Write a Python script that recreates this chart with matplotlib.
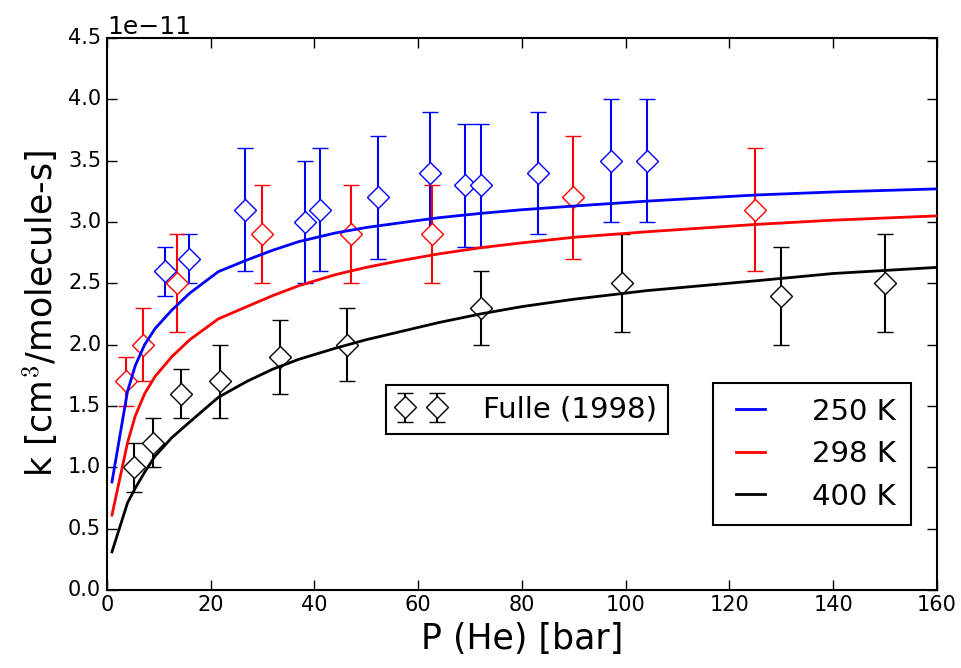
import numpy as np
import matplotlib
matplotlib.use("Agg")
import matplotlib.pyplot as plt

plt.style.use("classic")
plt.rcParams["font.family"] = ["DejaVu Sans"]
plt.rcParams["savefig.facecolor"] = "white"
plt.rcParams["figure.facecolor"] = "white"

# Fulle (1998) measurements, k in units of 1e-11 cm3/molecule-s
p_250 = [11.2, 15.8, 26.6, 38.2, 41.1, 52.2, 62.3, 69.0, 72.1, 83.1, 97.2, 104.1]
k_250 = [2.6, 2.7, 3.1, 3.0, 3.1, 3.2, 3.4, 3.3, 3.3, 3.4, 3.5, 3.5]
e_250 = [0.2, 0.2, 0.5, 0.5, 0.5, 0.5, 0.5, 0.5, 0.5, 0.5, 0.5, 0.5]

p_298 = [3.7, 6.9, 13.5, 29.9, 47.0, 62.7, 89.8, 124.9]
k_298 = [1.7, 2.0, 2.5, 2.9, 2.9, 2.9, 3.2, 3.1]
e_298 = [0.2, 0.3, 0.4, 0.4, 0.4, 0.4, 0.5, 0.5]

p_400 = [5.2, 8.9, 14.3, 21.8, 33.3, 46.3, 72.1, 99.3, 129.9, 150.0]
k_400 = [1.0, 1.2, 1.6, 1.7, 1.9, 2.0, 2.3, 2.5, 2.4, 2.5]
e_400 = [0.2, 0.2, 0.2, 0.3, 0.3, 0.3, 0.3, 0.4, 0.4, 0.4]

# model curves
p_fit = [1, 4, 5.5, 7.3, 9.3, 12.5, 16, 21.5, 27, 32, 37, 44, 50, 56, 64, 72, 80, 90,
         104, 125, 140, 160]
fit_250 = [0.88, 1.62, 1.83, 2.0, 2.13, 2.28, 2.42, 2.595, 2.69, 2.77, 2.84, 2.91, 2.955,
           2.99, 3.035, 3.07, 3.10, 3.13, 3.17, 3.22, 3.245, 3.27]
fit_298 = [0.61, 1.2, 1.42, 1.6, 1.74, 1.9, 2.04, 2.21, 2.31, 2.40, 2.48, 2.57, 2.63,
           2.68, 2.74, 2.79, 2.83, 2.875, 2.92, 2.98, 3.015, 3.05]
fit_400 = [0.31, 0.71, 0.83, 0.96, 1.09, 1.24, 1.37, 1.57, 1.70, 1.80, 1.88, 1.97, 2.04,
           2.10, 2.18, 2.25, 2.31, 2.37, 2.44, 2.52, 2.58, 2.63]

scale = 1e-11

fig = plt.figure(figsize=(9.62, 6.68), dpi=100)
ax = fig.add_axes([0.111, 0.117, 0.863, 0.826])

eb_kw = dict(fmt="D", markersize=11, markerfacecolor="white", markeredgewidth=1.0,
             elinewidth=1.5, capsize=6, capthick=1.5, zorder=2)
ax.errorbar(p_250, np.array(k_250) * scale, yerr=np.array(e_250) * scale,
            color="blue", markeredgecolor="blue", **eb_kw)
ax.errorbar(p_298, np.array(k_298) * scale, yerr=np.array(e_298) * scale,
            color="red", markeredgecolor="red", **eb_kw)
h_data = ax.errorbar(p_400, np.array(k_400) * scale, yerr=np.array(e_400) * scale,
                     color="black", markeredgecolor="black", **eb_kw)

l1, = ax.plot(p_fit, np.array(fit_250) * scale, color="blue", lw=2, zorder=3)
l2, = ax.plot(p_fit, np.array(fit_298) * scale, color="red", lw=2, zorder=3)
l3, = ax.plot(p_fit, np.array(fit_400) * scale, color="black", lw=2, zorder=3)

ax.set_xlim(0, 160)
ax.set_ylim(0, 4.5e-11)
ax.set_xlabel("P (He) [bar]", fontsize=25)
ax.set_ylabel("k [cm$^3$/molecule-s]", fontsize=25, labelpad=6)
ax.tick_params(labelsize=15, length=7, width=1)
ax.yaxis.get_offset_text().set_fontsize(18)
for s in ax.spines.values():
    s.set_linewidth(1.5)

leg1 = ax.legend([h_data], ["Fulle (1998)"], loc="upper left",
                 bbox_to_anchor=(0.336, 0.371), borderaxespad=0, fontsize=21,
                 numpoints=2, handlelength=1.7, handletextpad=1.3, borderpad=0.35)
leg1.get_frame().set_linewidth(1.5)
ax.add_artist(leg1)
leg2 = ax.legend([l1, l2, l3], ["250 K", "298 K", "400 K"], loc="upper left",
                 bbox_to_anchor=(0.730, 0.375), borderaxespad=0, fontsize=21,
                 handlelength=1.6, handletextpad=1.3, labelspacing=0.5, borderpad=0.5)
leg2.get_frame().set_linewidth(1.5)

fig.savefig("out.png", dpi=100)
